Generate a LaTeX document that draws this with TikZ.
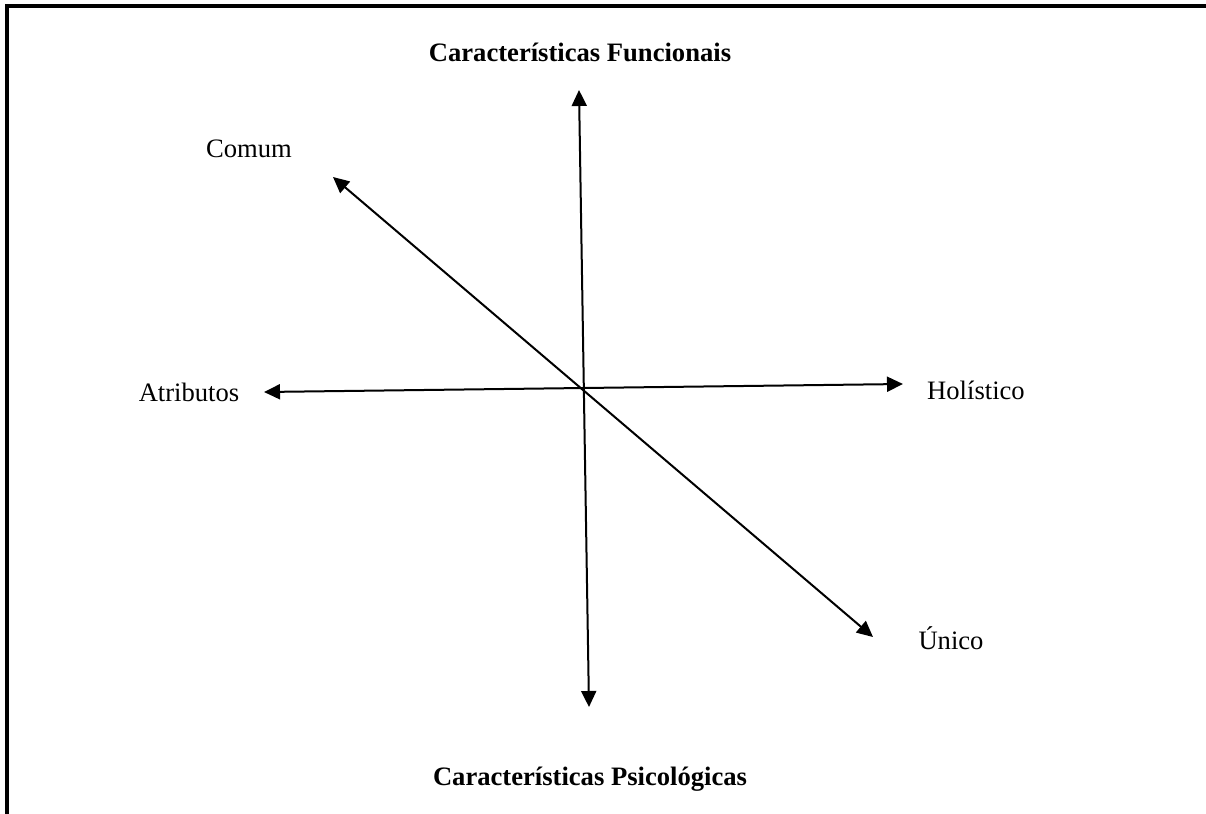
\documentclass[tikz,border=0pt]{standalone}
\usepackage{fontspec}
\setmainfont{Liberation Serif}
\usetikzlibrary{arrows.meta}
\begin{document}
\begin{tikzpicture}[x=0.5pt,y=-0.5pt,
  axis/.style={line width=1pt,{Triangle[length=8pt,width=7.5pt]}-{Triangle[length=8pt,width=7.5pt]}},
  lab/.style={font=\fontsize{13.3}{16}\selectfont,inner sep=0pt},
  blab/.style={lab,font=\fontsize{13.3}{16}\selectfont\bfseries}]
\useasboundingbox (0,0) rectangle (1206,814);
\draw[line width=1.6pt] (7,814) -- (7,6) -- (1206,6);
\coordinate (up) at (579,90);
\coordinate (down) at (589,707);
\coordinate (left) at (264,392);
\coordinate (right) at (903,384);
\coordinate (ul) at (333,177);
\coordinate (dr) at (873,637);
\draw[axis] (up) -- (down);
\draw[axis] (left) -- (right);
\draw[axis] (ul) -- (dr);
\node[blab] (tf) at (580,52) {Características Funcionais};
\node[blab] (tp) at (590,779) {Características Psicológicas};
\node[lab] (comum) at (249,149) {Comum};
\node[lab] (atr) at (189,392) {Atributos};
\node[lab] (hol) at (976,390) {Holístico};
\node[lab] (uni) at (951,638) {Único};
\end{tikzpicture}
\end{document}
